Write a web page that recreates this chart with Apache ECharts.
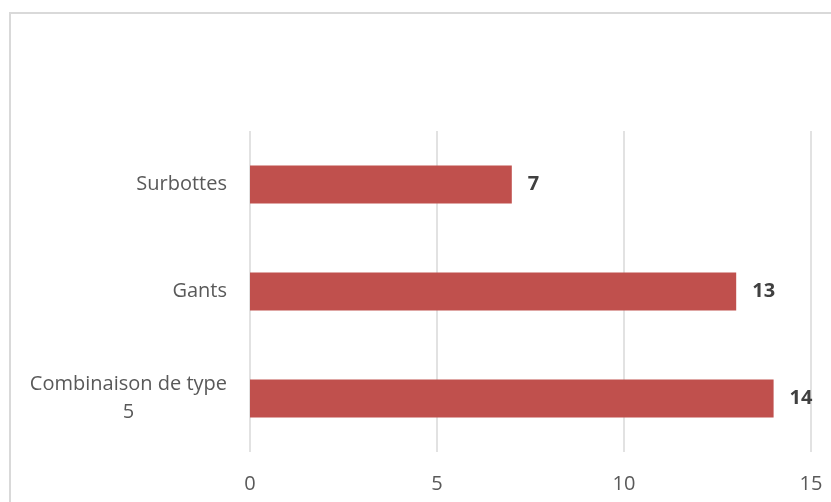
<!DOCTYPE html>
<html>
<head>
<meta charset="utf-8">
<script src="https://cdn.jsdelivr.net/npm/echarts@6/dist/echarts.min.js"></script>
<style>
html,body{margin:0;padding:0;background:#fff;}
#chart{width:831px;height:502px;}
</style>
</head>
<body>
<div id="chart"></div>
<script>
var categories = ['Combinaison de type 5', 'Gants', 'Surbottes'];
var values = [14, 13, 7];
var xTicks = [0, 5, 10, 15];

var chart = echarts.init(document.getElementById('chart'), null, {renderer: 'canvas'});
var font = '"Open Sans", "Liberation Sans", sans-serif';
chart.setOption({
  animation: false,
  backgroundColor: '#ffffff',
  graphic: [{
    type: 'rect',
    shape: {x: 10, y: 13, width: 900, height: 600},
    style: {fill: 'none', stroke: '#D9D9D9', lineWidth: 2},
    silent: true
  }],
  grid: {left: 250, right: 20, top: 131, bottom: 50, containLabel: false},
  xAxis: {
    type: 'value',
    min: xTicks[0],
    max: xTicks[xTicks.length - 1],
    interval: 5,
    axisLine: {show: false},
    axisTick: {show: false},
    splitLine: {show: true, lineStyle: {color: '#D9D9D9', width: 1.5}},
    axisLabel: {color: '#595959', fontSize: 20, fontFamily: font, margin: 22}
  },
  yAxis: {
    type: 'category',
    data: categories,
    axisLine: {show: false},
    axisTick: {show: false},
    splitLine: {show: false},
    axisLabel: {
      color: '#595959', fontSize: 20, fontFamily: font, margin: 23,
      formatter: function (v) {
        if (v === 'Combinaison de type 5') {
          return '{a|Combinaison de type}\n{b|5}';
        }
        return '{a|' + v + '}';
      },
      rich: {
        a: {color: '#595959', fontSize: 20, fontFamily: font, lineHeight: 28},
        b: {color: '#595959', fontSize: 20, fontFamily: font, lineHeight: 28, align: 'center'}
      }
    }
  },
  series: [{
    type: 'bar',
    data: values,
    barWidth: '35.5%',
    itemStyle: {color: '#C0504D'},
    label: {
      show: true,
      position: 'right',
      distance: 16,
      color: '#404040',
      fontWeight: 'bold',
      fontSize: 20,
      fontFamily: font
    }
  }]
});
</script>
</body>
</html>
